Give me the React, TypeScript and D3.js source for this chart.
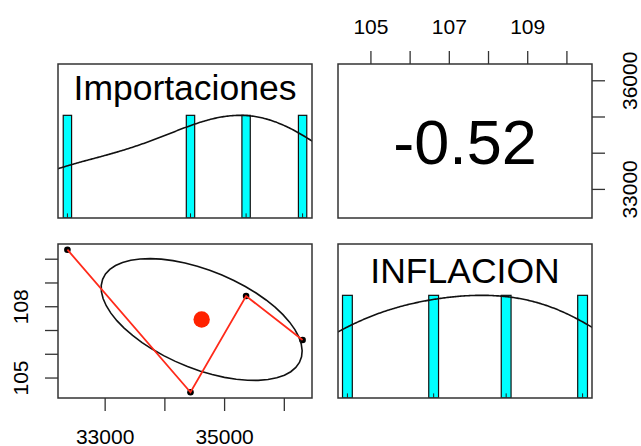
import React from "react";
import * as d3 from "d3";

// Variables and observations
const variables = ["Importaciones", "INFLACION"];
const importaciones = [32368, 34429, 35360, 36306];
const inflacion = [110.4, 104.4, 108.45, 106.6];

// Axis ticks and the subset that carries labels
const importacionesTicks = [33000, 34000, 35000, 36000];
const importacionesBottomLabels = [33000, 35000];
const importacionesRightLabels = [33000, 36000];
const inflacionTicks = [105, 106, 107, 108, 109, 110];
const inflacionTopLabels = [105, 107, 109];
const inflacionLeftLabels = [105, 108];

// Histogram bin widths (data units) and density bandwidth adjustment per variable
const histBinWidths = [140, 0.25];
const densityAdjust = [1.2, 1.0];

const W = 641;
const H = 446;
const colX = [58, 338];
const rowY = [64, 244];
const PW = 254;
const PH = 154;
const FONT = "'Liberation Sans', Arial, Helvetica, sans-serif";
const TICK = 13;

function paddedScale(vals: number[], r0: number, r1: number) {
  const [lo, hi] = d3.extent(vals) as [number, number];
  const pad = (hi - lo) * 0.04;
  return d3.scaleLinear().domain([lo - pad, hi + pad]).range([r0, r1]);
}

// Gaussian kernel density with nrd bandwidth, scaled to a peak of 1
function density(vals: number[], adjust: number) {
  const n = vals.length;
  const sd = d3.deviation(vals) as number;
  const sorted = [...vals].sort((a, b) => a - b);
  const iqr = (d3.quantile(sorted, 0.75) as number) - (d3.quantile(sorted, 0.25) as number);
  const bw = adjust * 1.06 * Math.min(sd, iqr / 1.34) * Math.pow(n, -0.2);
  const lo = d3.min(vals)! - 3 * bw;
  const hi = d3.max(vals)! + 3 * bw;
  const xs = d3.range(512).map((i) => lo + (i * (hi - lo)) / 511);
  const ys = xs.map((x) =>
    d3.sum(vals, (v) => Math.exp(-0.5 * ((x - v) / bw) ** 2)) / (n * bw * Math.sqrt(2 * Math.PI))
  );
  const m = d3.max(ys)!;
  return xs.map((x, i) => [x, ys[i] / m] as [number, number]);
}

function pearson(a: number[], b: number[]) {
  const ma = d3.mean(a)!;
  const mb = d3.mean(b)!;
  let sab = 0, saa = 0, sbb = 0;
  a.forEach((v, i) => {
    sab += (v - ma) * (b[i] - mb);
    saa += (v - ma) ** 2;
    sbb += (b[i] - mb) ** 2;
  });
  return sab / Math.sqrt(saa * sbb);
}

function DiagPanel({ vals, label, col, binWidth, adjust, id }: { vals: number[]; label: string; col: number; binWidth: number; adjust: number; id: string }) {
  const x0 = colX[col];
  const y0 = rowY[col];
  const x = paddedScale(vals, x0, x0 + PW);
  const y = d3.scaleLinear().domain([0, 1.5]).range([y0 + PH, y0]);
  const dens = density(vals, adjust);
  const line = d3.line<[number, number]>().x((d) => x(d[0])).y((d) => y(d[1]));
  const fs = 35.5;
  const cy = y0 + 26.7;
  const hasDesc = /[gjpqy]/.test(label);
  const baseline = cy + (0.716 * fs - (hasDesc ? 0.21 * fs : 0)) / 2;
  return (
    <g>
      <clipPath id={id}>
        <rect x={x0} y={y0} width={PW} height={PH} />
      </clipPath>
      <g clipPath={`url(#${id})`}>
        {vals.map((v, i) => (
          <rect key={i} x={x(v - binWidth / 2)} y={y(1)} width={x(v + binWidth / 2) - x(v - binWidth / 2)} height={y(0) - y(1)} fill="#00FFFF" stroke="#111" strokeWidth={1.2} />
        ))}
        {vals.map((v, i) => (
          <line key={"r" + i} x1={x(v)} x2={x(v)} y1={y0 + PH} y2={y0 + PH - 0.03 * PH} stroke="#222" strokeWidth={1} />
        ))}
        <path d={line(dens)!} fill="none" stroke="#111" strokeWidth={1.6} />
      </g>
      <text x={x0 + PW / 2} y={baseline} textAnchor="middle" fontSize={fs} fontFamily={FONT} fill="#000">
        {label}
      </text>
      <rect x={x0} y={y0} width={PW} height={PH} fill="none" stroke="#333" strokeWidth={1.5} />
    </g>
  );
}

export default function App() {
  // Lower-left scatter: Importaciones (x) vs INFLACION (y)
  const sx = paddedScale(importaciones, colX[0], colX[0] + PW);
  const sy = paddedScale(inflacion, rowY[1] + PH, rowY[1]);
  // Axis scales used by the upper-right panel
  const topX = paddedScale(inflacion, colX[1], colX[1] + PW);
  const rightY = paddedScale(importaciones, rowY[0] + PH, rowY[0]);

  const r = pearson(importaciones, inflacion);
  const xm = d3.mean(importaciones)!;
  const ym = d3.mean(inflacion)!;
  const xs = d3.deviation(importaciones)!;
  const ys = d3.deviation(inflacion)!;

  // Correlation ellipse (one standard deviation)
  const theta = r !== 0 ? Math.sign(r) / Math.SQRT2 : 1 / Math.SQRT2;
  const a = Math.sqrt(1 + r);
  const b = Math.sqrt(1 - r);
  const ellipse = d3.range(52).map((i) => {
    const t = (i * 2 * Math.PI) / 51;
    const ex = Math.cos(t) * a * theta - Math.sin(t) * b * theta;
    const ey = Math.cos(t) * a * theta + Math.sin(t) * b * theta;
    return [ex * xs + xm, ey * ys + ym] as [number, number];
  });
  const pts = importaciones.map((v, i) => [v, inflacion[i]] as [number, number]);
  const smooth = [...pts].sort((p, q) => p[0] - q[0]);
  const line = d3.line<[number, number]>().x((d) => sx(d[0])).y((d) => sy(d[1]));

  const axisFs = 21;
  const stroke = "#333";

  return (
    <svg width={W} height={H} style={{ position: "absolute", left: 0, top: 0, background: "#fff" }}>
      <rect width={W} height={H} fill="#fff" />
      <DiagPanel vals={importaciones} label={variables[0]} col={0} binWidth={histBinWidths[0]} adjust={densityAdjust[0]} id="clip-d0" />
      <DiagPanel vals={inflacion} label={variables[1]} col={1} binWidth={histBinWidths[1]} adjust={densityAdjust[1]} id="clip-d1" />

      {/* Upper-right: correlation */}
      <rect x={colX[1]} y={rowY[0]} width={PW} height={PH} fill="none" stroke={stroke} strokeWidth={1.5} />
      <text x={colX[1] + PW / 2} y={rowY[0] + PH / 2 + 0.37 * 63} textAnchor="middle" fontSize={63} fontFamily={FONT} fill="#000">
        {r.toFixed(2)}
      </text>
      {inflacionTicks.map((t) => (
        <line key={"tt" + t} x1={topX(t)} x2={topX(t)} y1={rowY[0]} y2={rowY[0] - TICK} stroke={stroke} strokeWidth={1.3} />
      ))}
      {inflacionTopLabels.map((t) => (
        <text key={"tl" + t} x={topX(t)} y={34} textAnchor="middle" fontSize={axisFs} fontFamily={FONT} fill="#000">
          {t}
        </text>
      ))}
      {importacionesTicks.map((t) => (
        <line key={"rt" + t} x1={colX[1] + PW} x2={colX[1] + PW + TICK} y1={rightY(t)} y2={rightY(t)} stroke={stroke} strokeWidth={1.3} />
      ))}
      {importacionesRightLabels.map((t) => (
        <text key={"rl" + t} transform={`translate(637,${rightY(t)}) rotate(-90)`} textAnchor="middle" fontSize={axisFs} fontFamily={FONT} fill="#000">
          {t}
        </text>
      ))}

      {/* Lower-left: scatter with smoother and ellipse */}
      <clipPath id="clip-s">
        <rect x={colX[0]} y={rowY[1]} width={PW} height={PH} />
      </clipPath>
      <g clipPath="url(#clip-s)">
        {pts.map((p, i) => (
          <circle key={i} cx={sx(p[0])} cy={sy(p[1])} r={3.3} fill="#000" />
        ))}
        <path d={line(ellipse)!} fill="none" stroke="#111" strokeWidth={1.6} />
        <path d={line(smooth)!} fill="none" stroke="#FF2A1A" strokeWidth={1.8} />
        <circle cx={sx(xm)} cy={sy(ym)} r={8.2} fill="#FF2200" />
      </g>
      <rect x={colX[0]} y={rowY[1]} width={PW} height={PH} fill="none" stroke={stroke} strokeWidth={1.5} />
      {importacionesTicks.map((t) => (
        <line key={"bt" + t} x1={sx(t)} x2={sx(t)} y1={rowY[1] + PH} y2={rowY[1] + PH + TICK} stroke={stroke} strokeWidth={1.3} />
      ))}
      {importacionesBottomLabels.map((t) => (
        <text key={"bl" + t} x={sx(t)} y={444} textAnchor="middle" fontSize={axisFs} fontFamily={FONT} fill="#000">
          {t}
        </text>
      ))}
      {inflacionTicks.map((t) => (
        <line key={"lt" + t} x1={colX[0]} x2={colX[0] - TICK} y1={sy(t)} y2={sy(t)} stroke={stroke} strokeWidth={1.3} />
      ))}
      {inflacionLeftLabels.map((t) => (
        <text key={"ll" + t} transform={`translate(28,${sy(t)}) rotate(-90)`} textAnchor="middle" fontSize={axisFs} fontFamily={FONT} fill="#000">
          {t}
        </text>
      ))}
    </svg>
  );
}
